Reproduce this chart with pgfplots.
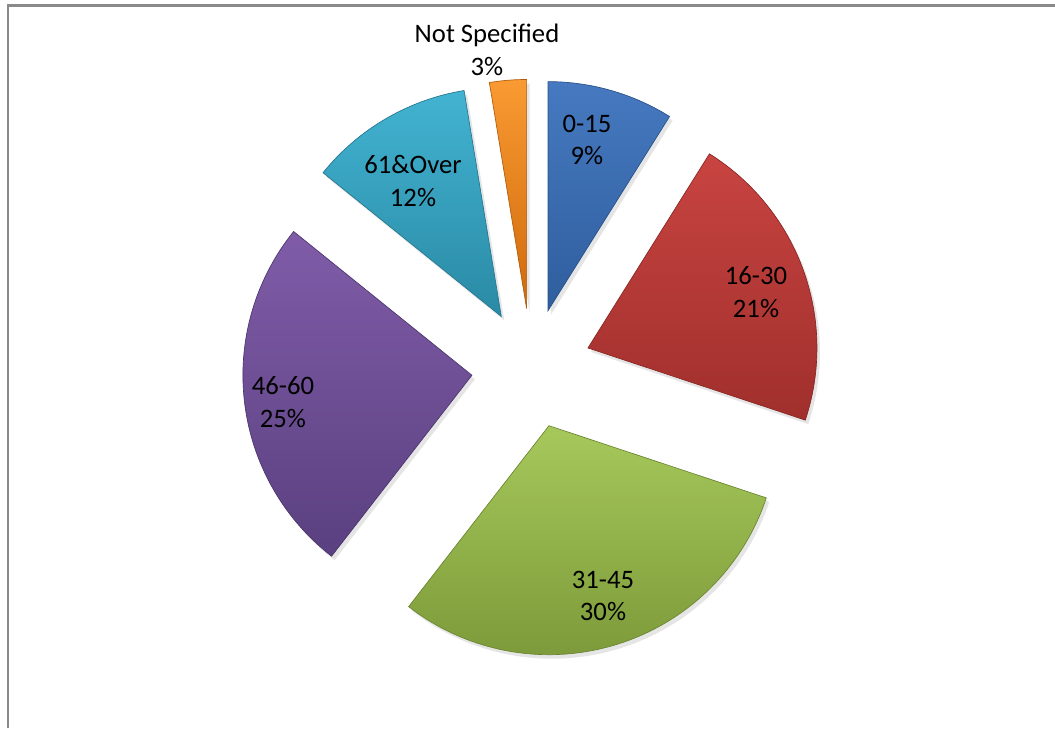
\documentclass[border=0pt]{standalone}
\usepackage{pgfplots}
\pgfplotsset{compat=1.18}
\usepackage{fontspec}
\setmainfont{Carlito}

\definecolor{frm}{HTML}{8A8A8A}
\definecolor{bluT}{HTML}{4679C0}\definecolor{bluB}{HTML}{2F5E9E}\definecolor{bluD}{HTML}{284F86}
\definecolor{redT}{HTML}{C84441}\definecolor{redB}{HTML}{A02F2C}\definecolor{redD}{HTML}{872624}
\definecolor{grnT}{HTML}{A6C85B}\definecolor{grnB}{HTML}{7D9B3A}\definecolor{grnD}{HTML}{6A8530}
\definecolor{purT}{HTML}{805CA8}\definecolor{purB}{HTML}{5A4080}\definecolor{purD}{HTML}{4A356B}
\definecolor{cyaT}{HTML}{42B3D1}\definecolor{cyaB}{HTML}{2A8AA5}\definecolor{cyaD}{HTML}{23768E}
\definecolor{oraT}{HTML}{F99A32}\definecolor{oraB}{HTML}{D06A0C}\definecolor{oraD}{HTML}{B05A0A}

% data: shares in percent (clockwise from 12 o'clock)
\def\pA{8.9}   % 0-15          (label 9%)
\def\pB{21.2}  % 16-30         (label 21%)
\def\pC{30.4}  % 31-45         (label 30%)
\def\pD{25.3}  % 46-60         (label 25%)
\def\pE{11.6}  % 61&Over       (label 12%)
\def\pF{2.6}   % Not Specified (label 3%)

% geometry (pixel units)
\def\cx{531.5}\def\cy{-368.3}\def\R{229}\def\D{60}

\pgfmathsetmacro\sA{90}
\pgfmathsetmacro\eA{\sA-3.6*\pA}
\pgfmathsetmacro\eB{\eA-3.6*\pB}
\pgfmathsetmacro\eC{\eB-3.6*\pC}
\pgfmathsetmacro\eD{\eC-3.6*\pD}
\pgfmathsetmacro\eE{\eD-3.6*\pE}
\pgfmathsetmacro\eF{\eE-3.6*\pF}

\pgfmathsetmacro\xA{\cx+\D*cos((\sA+\eA)/2)}\pgfmathsetmacro\yA{\cy+\D*sin((\sA+\eA)/2)}
\pgfmathsetmacro\xB{\cx+\D*cos((\eA+\eB)/2)}\pgfmathsetmacro\yB{\cy+\D*sin((\eA+\eB)/2)}
\pgfmathsetmacro\xC{\cx+\D*cos((\eB+\eC)/2)}\pgfmathsetmacro\yC{\cy+\D*sin((\eB+\eC)/2)}
\pgfmathsetmacro\xD{\cx+\D*cos((\eC+\eD)/2)}\pgfmathsetmacro\yD{\cy+\D*sin((\eC+\eD)/2)}
\pgfmathsetmacro\xE{\cx+\D*cos((\eD+\eE)/2)}\pgfmathsetmacro\yE{\cy+\D*sin((\eD+\eE)/2)}
\pgfmathsetmacro\xF{\cx+\D*cos((\eE+\eF)/2)}\pgfmathsetmacro\yF{\cy+\D*sin((\eE+\eF)/2)}

\begin{document}
\begin{tikzpicture}
\begin{axis}[
  scale only axis, width=791.25pt, height=546pt,
  xmin=0, xmax=1055, ymin=-728, ymax=0,
  hide axis, clip=false,
  samples=80, variable=\t,
]
\coordinate (bl) at (axis cs:0,-728);
\coordinate (tr) at (axis cs:1055,0);
\draw[line width=1.6pt, frm] (axis cs:8,-728) -- (axis cs:8,-5.5) -- (axis cs:1055,-5.5);

% soft shadows
\addplot[draw=none, fill=black, opacity=0.10, domain=\eA:\sA] ({\xA+3+\R*cos(t)},{\yA-4+\R*sin(t)}) -- (axis cs:\xA+3,\yA-4) -- cycle;
\addplot[draw=none, fill=black, opacity=0.10, domain=\eB:\eA] ({\xB+3+\R*cos(t)},{\yB-4+\R*sin(t)}) -- (axis cs:\xB+3,\yB-4) -- cycle;
\addplot[draw=none, fill=black, opacity=0.10, domain=\eC:\eB] ({\xC+3+\R*cos(t)},{\yC-4+\R*sin(t)}) -- (axis cs:\xC+3,\yC-4) -- cycle;
\addplot[draw=none, fill=black, opacity=0.10, domain=\eD:\eC] ({\xD+3+\R*cos(t)},{\yD-4+\R*sin(t)}) -- (axis cs:\xD+3,\yD-4) -- cycle;
\addplot[draw=none, fill=black, opacity=0.10, domain=\eE:\eD] ({\xE+3+\R*cos(t)},{\yE-4+\R*sin(t)}) -- (axis cs:\xE+3,\yE-4) -- cycle;
\addplot[draw=none, fill=black, opacity=0.10, domain=\eF:\eE] ({\xF+3+\R*cos(t)},{\yF-4+\R*sin(t)}) -- (axis cs:\xF+3,\yF-4) -- cycle;

% slices
\addplot[draw=bluD, line width=0.5pt, top color=bluT, bottom color=bluB, domain=\eA:\sA] ({\xA+\R*cos(t)},{\yA+\R*sin(t)}) -- (axis cs:\xA,\yA) -- cycle;
\addplot[draw=redD, line width=0.5pt, top color=redT, bottom color=redB, domain=\eB:\eA] ({\xB+\R*cos(t)},{\yB+\R*sin(t)}) -- (axis cs:\xB,\yB) -- cycle;
\addplot[draw=grnD, line width=0.5pt, top color=grnT, bottom color=grnB, domain=\eC:\eB] ({\xC+\R*cos(t)},{\yC+\R*sin(t)}) -- (axis cs:\xC,\yC) -- cycle;
\addplot[draw=purD, line width=0.5pt, top color=purT, bottom color=purB, domain=\eD:\eC] ({\xD+\R*cos(t)},{\yD+\R*sin(t)}) -- (axis cs:\xD,\yD) -- cycle;
\addplot[draw=cyaD, line width=0.5pt, top color=cyaT, bottom color=cyaB, domain=\eE:\eD] ({\xE+\R*cos(t)},{\yE+\R*sin(t)}) -- (axis cs:\xE,\yE) -- cycle;
\addplot[draw=oraD, line width=0.5pt, top color=oraT, bottom color=oraB, domain=\eF:\eE] ({\xF+\R*cos(t)},{\yF+\R*sin(t)}) -- (axis cs:\xF,\yF) -- cycle;

% labels
\begin{scope}[every node/.style={align=center, font=\fontsize{20}{24.4}\selectfont, inner sep=0pt}]
\node at (axis cs:587,-140) {0-15\\9\%};
\node at (axis cs:756,-292) {16-30\\21\%};
\node at (axis cs:603,-596) {31-45\\30\%};
\node at (axis cs:283,-402) {46-60\\25\%};
\node at (axis cs:413,-181) {61\&Over\\12\%};
\node at (axis cs:487,-50) {Not Specified\\3\%};
\end{scope}
\end{axis}
\pgfresetboundingbox
\path (bl) rectangle (tr);
\end{tikzpicture}
\end{document}
